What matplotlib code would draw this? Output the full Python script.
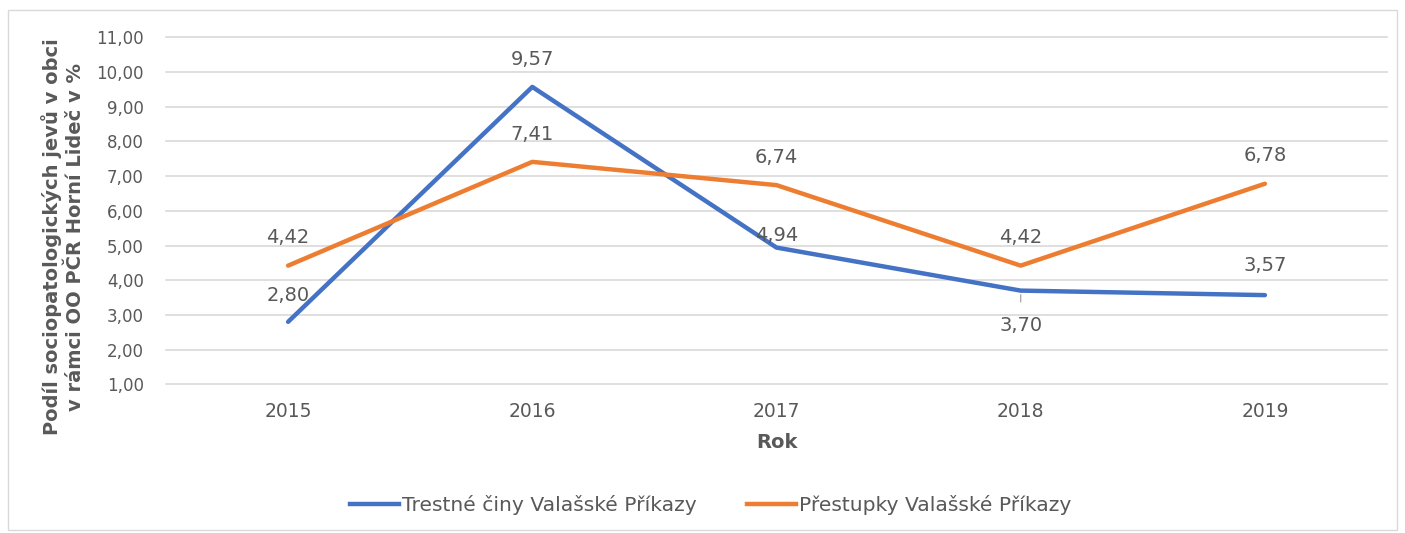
import matplotlib
matplotlib.use("Agg")
import matplotlib.pyplot as plt
from matplotlib.patches import Rectangle
from matplotlib.lines import Line2D

years = ["2015", "2016", "2017", "2018", "2019"]
trestne = [2.80, 9.57, 4.94, 3.70, 3.57]
prestupky = [4.42, 7.41, 6.74, 4.42, 6.78]
yticks = [1, 2, 3, 4, 5, 6, 7, 8, 9, 10, 11]
series_names = ["Trestné činy Valašské Příkazy", "Přestupky Valašské Příkazy"]

BLUE = "#4472C4"
ORANGE = "#ED7D31"
TXT = "#595959"

plt.rcParams['font.family'] = ['DejaVu Sans']

fig = plt.figure(figsize=(14.05, 5.33), dpi=100)
ax = fig.add_axes([166/1405, 1-384.3/533, (1387-166)/1405, (384.3-37.3)/533])

x = list(range(len(years)))
ax.plot(x, trestne, color=BLUE, lw=3.2, solid_capstyle='round', zorder=3)
ax.plot(x, prestupky, color=ORANGE, lw=3.2, solid_capstyle='round', zorder=3)

ax.set_xlim(-0.5, len(years) - 0.5)
ax.set_ylim(1, 11)
ax.set_yticks(yticks)
ax.set_yticklabels([f"{v:.2f}".replace(".", ",") for v in yticks])
ax.set_xticks(x)
ax.set_xticklabels(years)
ax.grid(axis='y', color="#D9D9D9", lw=1.2)
for gl in ax.get_ygridlines():
    gl.set_clip_on(False)
ax.set_axisbelow(True)
for s in ax.spines.values():
    s.set_visible(False)
ax.tick_params(axis='y', length=0, labelsize=12, colors=TXT, pad=16)
ax.tick_params(axis='x', length=0, labelsize=13.5, colors=TXT, pad=13)

def fmt(v):
    return f"{v:.2f}".replace(".", ",")

# data labels (offset in points)
blue_off = [19, 20, 9, -25, 21]
for i, v in enumerate(trestne):
    if blue_off[i] < 0:
        ax.annotate(fmt(v), (i, v), xytext=(0, blue_off[i]), textcoords='offset points',
                    ha='center', va='center', fontsize=14, color=TXT,
                    arrowprops=dict(arrowstyle='-', color='#A6A6A6', lw=0.9,
                                    shrinkA=8, shrinkB=3))
    else:
        ax.annotate(fmt(v), (i, v), xytext=(0, blue_off[i]), textcoords='offset points',
                    ha='center', va='center', fontsize=14, color=TXT)
for i, v in enumerate(prestupky):
    ax.annotate(fmt(v), (i, v), xytext=(0, 20), textcoords='offset points',
                ha='center', va='center', fontsize=14, color=TXT)

fig.text(0.5 * (166 + 1387) / 1405, 1 - 443 / 533, "Rok", ha='center', va='center',
         fontsize=14, fontweight='bold', color=TXT)
fig.text(63/1405, 1-237/533, "Podíl sociopatologických jevů v obci\nv rámci OO PČR Horní Lideč v %",
         rotation=90, ha='center', va='center', fontsize=14, fontweight='bold',
         color=TXT, linespacing=1.25)

handles = [Line2D([], [], color=BLUE, lw=3.2), Line2D([], [], color=ORANGE, lw=3.2)]
fig.legend(handles, series_names, loc='center', bbox_to_anchor=(0.506, 1-505/533),
           ncol=2, frameon=False, fontsize=14.6, labelcolor=TXT,
           handlelength=2.4, handletextpad=0.15, columnspacing=2.5)

fig.patches.append(Rectangle((8/1405, 1-530/533), 1389/1405, 520/533,
                             transform=fig.transFigure, fill=False,
                             edgecolor="#D9D9D9", lw=1))

fig.savefig("out.png", dpi=100, facecolor="white")
